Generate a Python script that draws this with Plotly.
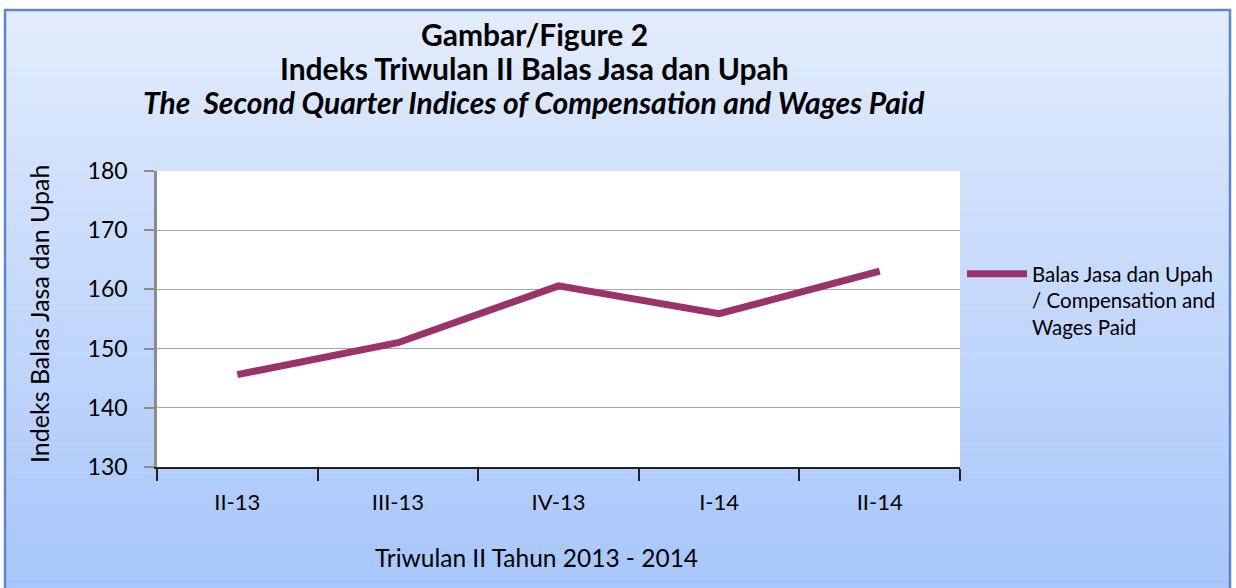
import plotly.graph_objects as go

categories = ["II-13", "III-13", "IV-13", "I-14", "II-14"]
values = [145.6, 151.0, 160.6, 155.9, 163.1]
series_name = "Balas Jasa dan Upah<br>/ Compensation and<br>Wages Paid"
y_ticks = [130, 140, 150, 160, 170, 180]

W, H = 1236, 588
L, R, T, B = 157, 276, 171, 121
FONT = "Lato"

fig = go.Figure()
fig.add_trace(go.Scatter(
    x=categories, y=values, mode="lines", name=series_name,
    line=dict(color="#9A3368", width=7),
))

def px_x(p):
    return (p - L) / (W - L - R)

def px_y(p):
    return 1 - (p - T) / (H - T - B)

# gradient background strips
shapes = []
top_c = (0xE2, 0xEC, 0xFC)
bot_c = (0xA8, 0xC6, 0xFB)
y0p, y1p = 9, H
n = 60
for i in range(n):
    a = y0p + (y1p - y0p) * i / n
    b = y0p + (y1p - y0p) * (i + 1) / n + 0.5
    t = (i + 0.5) / n
    c = tuple(round(top_c[k] + (bot_c[k] - top_c[k]) * t) for k in range(3))
    shapes.append(dict(type="rect", xref="paper", yref="paper",
                       x0=px_x(4), x1=px_x(1231), y0=px_y(b), y1=px_y(a),
                       fillcolor="rgb(%d,%d,%d)" % c, line=dict(width=0), layer="below"))
# border
shapes.append(dict(type="rect", xref="paper", yref="paper",
                   x0=px_x(5), x1=px_x(1230), y0=px_y(H + 5), y1=px_y(10),
                   line=dict(color="#5B86C8", width=2.5), layer="below"))
# plot area white
shapes.append(dict(type="rect", xref="paper", yref="paper",
                   x0=0, x1=1, y0=0, y1=1, fillcolor="white",
                   line=dict(width=0), layer="below"))

titles = [
    ("<b>Gambar/Figure 2</b>", 34),
    ("<b>Indeks Triwulan II Balas Jasa dan Upah</b>", 68),
    ("<b><i>The  Second Quarter Indices of Compensation and Wages Paid</i></b>", 102),
]
annotations = []
for txt, yp in titles:
    annotations.append(dict(text=txt, x=px_x(534), y=px_y(yp), xref="paper", yref="paper",
                            showarrow=False, xanchor="center", yanchor="middle",
                            font=dict(family=FONT, size=30, color="black")))
annotations += [
    dict(text="Triwulan II Tahun 2013 - 2014", x=px_x(536), y=px_y(557),
         xref="paper", yref="paper", showarrow=False, xanchor="center", yanchor="middle",
         font=dict(family=FONT, size=24.5, color="black")),
    dict(text="Indeks Balas Jasa dan Upah", x=px_x(39), y=px_y(314), textangle=-90,
         xref="paper", yref="paper", showarrow=False, xanchor="center", yanchor="middle",
         font=dict(family=FONT, size=25, color="black")),
]

fig.update_layout(
    width=W, height=H,
    margin=dict(l=L, r=R, t=T, b=B, pad=0),
    paper_bgcolor="white", plot_bgcolor="white",
    font=dict(family=FONT, size=20, color="black"),
    shapes=shapes, annotations=annotations,
    showlegend=True,
    legend=dict(x=px_x(962), y=px_y(254), xanchor="left", yanchor="top",
                bgcolor="rgba(0,0,0,0)", font=dict(family=FONT, size=20.5, color="black"),
                valign="top", tracegroupgap=0, itemwidth=60),
    xaxis=dict(type="category", tickmode="array", tickvals=categories, ticktext=categories,
               showgrid=False, showline=True, linecolor="#222222", linewidth=2,
               ticks="outside", tickson="boundaries", ticklen=12, tickcolor="#222222", tickwidth=1.5,
               ticklabelstandoff=15, tickfont=dict(size=22), range=[-0.5, 4.5]),
    yaxis=dict(range=[130, 180], tickvals=y_ticks, showgrid=True, gridcolor="#A6A6A6", gridwidth=1,
               showline=True, linecolor="#8C8C8C", linewidth=2.5, ticks="outside", ticklen=10,
               tickcolor="#8C8C8C", tickwidth=1.5, ticklabelstandoff=12, tickfont=dict(size=23),
               zeroline=False),
)

fig.write_html("out.html", config={"displayModeBar": False},
               post_script="document.body.style.margin='0px';")
